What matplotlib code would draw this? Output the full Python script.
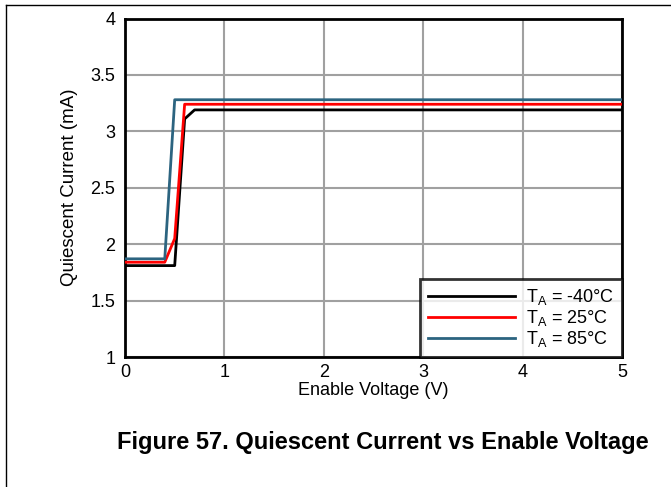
import matplotlib
matplotlib.use("Agg")
import matplotlib.pyplot as plt
from matplotlib.lines import Line2D

plt.rcParams['font.family'] = ['Liberation Sans', 'DejaVu Sans']

# Enable voltage (V) and quiescent current (mA) for each ambient temperature
v_m40 = [0.0, 0.4, 0.5, 0.6, 0.7, 1.0, 2.0, 3.0, 4.0, 5.0]
iq_m40 = [1.81, 1.81, 1.81, 3.11, 3.19, 3.19, 3.19, 3.19, 3.19, 3.19]

v_25 = [0.0, 0.4, 0.5, 0.6, 1.0, 2.0, 3.0, 4.0, 5.0]
iq_25 = [1.84, 1.84, 2.05, 3.24, 3.24, 3.24, 3.24, 3.24, 3.24]

v_85 = [0.0, 0.4, 0.5, 1.0, 2.0, 3.0, 4.0, 5.0]
iq_85 = [1.87, 1.87, 3.28, 3.28, 3.28, 3.28, 3.28, 3.28]

labels = [r'T$_\mathregular{A}$ = -40°C', r'T$_\mathregular{A}$ = 25°C', r'T$_\mathregular{A}$ = 85°C']
colors = ['#000000', '#ff0000', '#2c6480']

x_ticks = [0, 1, 2, 3, 4, 5]
y_ticks = [1, 1.5, 2, 2.5, 3, 3.5, 4]
y_tick_labels = ['1', '1.5', '2', '2.5', '3', '3.5', '4']

W, H = 671, 487
fig = plt.figure(figsize=(W / 100, H / 100), dpi=100)
ax = fig.add_axes([125 / W, 1 - 357 / H, (622 - 125) / W, (357 - 18.5) / H])

for xs, ys, lab, c in zip([v_m40, v_25, v_85], [iq_m40, iq_25, iq_85], labels, colors):
    ax.plot(xs, ys, color=c, lw=2.0, label=lab, zorder=3)

ax.set_xlim(0, 5)
ax.set_ylim(1, 4)
ax.set_xticks(x_ticks)
ax.set_yticks(y_ticks)
ax.set_yticklabels(y_tick_labels)
ax.grid(True, color='#a0a0a0', lw=1.5)
ax.set_axisbelow(True)
for s in ax.spines.values():
    s.set_linewidth(2.0)
    s.set_color('black')
ax.tick_params(axis='y', length=0, labelsize=13, pad=7)
ax.tick_params(axis='x', length=0, labelsize=13, pad=5)
ax.set_xlabel('Enable Voltage (V)', fontsize=13, labelpad=0.5)
ax.set_ylabel('Quiescent Current (mA)', fontsize=13.5, labelpad=9)

leg = ax.legend(loc='lower right', fontsize=13, frameon=True, fancybox=False,
                borderaxespad=0, handlelength=4.8, handletextpad=0.6,
                labelspacing=0.05, borderpad=0.45)
leg.get_frame().set_edgecolor('black')
leg.get_frame().set_linewidth(2.0)

fig.text(383 / W, 1 - 442 / H, 'Figure 57. Quiescent Current vs Enable Voltage',
         ha='center', va='center', fontsize=17, fontweight='bold')

# page frame
fig.add_artist(Line2D([6 / W, 1], [1 - 5 / H, 1 - 5 / H], color='black', lw=1.0))
fig.add_artist(Line2D([6 / W, 6 / W], [0, 1 - 5 / H], color='black', lw=1.0))

fig.savefig('out.png', dpi=100)
